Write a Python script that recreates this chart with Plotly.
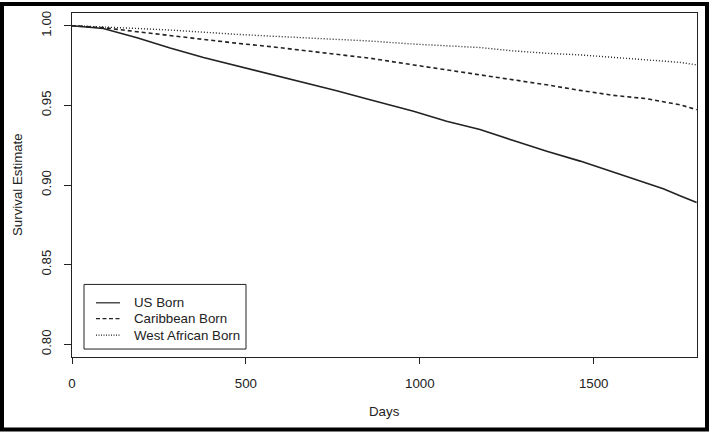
import plotly.graph_objects as go

# ---- data ----
days = [0, 90, 187, 282, 378, 474, 570, 665, 761, 857, 982, 1077, 1173,
        1269, 1365, 1461, 1556, 1652, 1700, 1748, 1796]
us_born = [1.0, 0.9983, 0.9925, 0.9860, 0.9800, 0.9748, 0.9696, 0.9644,
           0.9592, 0.9535, 0.9463, 0.9400, 0.9348, 0.9279, 0.9212, 0.9150,
           0.9083, 0.9014, 0.8977, 0.8932, 0.8890]
caribbean_born = [1.0, 0.9988, 0.99625, 0.99375, 0.99125, 0.9890, 0.9869,
                  0.9844, 0.9823, 0.9796, 0.9754, 0.9723, 0.9692, 0.9665,
                  0.9629, 0.9594, 0.9563, 0.9542, 0.9523, 0.9504, 0.9473]
west_african_born = [1.0, 0.9994, 0.9983, 0.9973, 0.9958, 0.9946, 0.9935,
                     0.9925, 0.9914, 0.9904, 0.9885, 0.9873, 0.9863, 0.9842,
                     0.9827, 0.9817, 0.9800, 0.9785, 0.9777, 0.9770, 0.9754]
series_names = ["US Born", "Caribbean Born", "West African Born"]
x_ticks = [0, 500, 1000, 1500]
y_ticks = [0.80, 0.85, 0.90, 0.95, 1.00]
y_tick_text = ["0.80", "0.85", "0.90", "0.95", "1.00"]

FONT = "Liberation Sans, Arial, Helvetica, sans-serif"
INK = "#222222"

W, H = 709, 432
ML, MR, MT, MB = 72, 12, 11, 75
PW, PH = W - ML - MR, H - MT - MB

def px_x(p):
    return (p - ML) / PW

def px_y(p):
    return (MT + PH - p) / PH

fig = go.Figure()
styles = [
    dict(color=INK, width=1.6, dash="solid"),
    dict(color=INK, width=1.6, dash="4px,3px"),
    dict(color=INK, width=1.4, dash="1px,2px"),
]
for name, ys, st in zip(series_names, [us_born, caribbean_born, west_african_born], styles):
    fig.add_trace(go.Scatter(x=days, y=ys, mode="lines", name=name, line=st,
                             showlegend=False))

# ---- legend drawn as a box with samples (R-style) ----
shapes = [
    dict(type="rect", xref="paper", yref="paper",
         x0=px_x(84), x1=px_x(246), y0=px_y(349), y1=px_y(284),
         line=dict(color=INK, width=1), fillcolor="white", layer="above"),
]
annotations = []
legend_rows = [302.5, 318.5, 335]
legend_dash = ["solid", "4px,2.5px", "1px,1.5px"]
for name, row, dash in zip(series_names, legend_rows, legend_dash):
    shapes.append(dict(type="line", xref="paper", yref="paper",
                       x0=px_x(96), x1=px_x(120), y0=px_y(row), y1=px_y(row),
                       line=dict(color=INK, width=1.2, dash=dash), layer="above"))
    annotations.append(dict(text=name, xref="paper", yref="paper",
                            x=px_x(132), y=px_y(row), xanchor="left",
                            yanchor="middle", showarrow=False,
                            font=dict(family=FONT, size=13.3, color=INK)))

annotations += [
    dict(text="Days", xref="paper", yref="paper", x=0.5, y=px_y(412),
         xanchor="center", yanchor="middle", showarrow=False,
         font=dict(family=FONT, size=13.3, color=INK)),
    dict(text="Survival Estimate", xref="paper", yref="paper",
         x=px_x(17), y=0.5, textangle=-90, xanchor="center",
         yanchor="middle", showarrow=False,
         font=dict(family=FONT, size=13.3, color=INK)),
]
shapes.append(dict(type="rect", xref="paper", yref="paper",
                   x0=px_x(2), x1=px_x(W - 2), y0=px_y(H - 2), y1=px_y(2),
                   line=dict(color="black", width=4),
                   fillcolor="rgba(0,0,0,0)"))

fig.update_layout(
    width=W, height=H,
    margin=dict(l=ML, r=MR, t=MT, b=MB),
    paper_bgcolor="white", plot_bgcolor="white",
    font=dict(family=FONT, size=13, color=INK),
    showlegend=False,
    xaxis=dict(
        range=[0, 1797], tickvals=x_ticks, ticktext=[str(v) for v in x_ticks],
        showgrid=False, zeroline=False, showline=True, linecolor=INK,
        linewidth=1, mirror=True, ticks="outside", ticklen=6, tickcolor=INK,
        tickfont=dict(family=FONT, size=13.3, color=INK),
        ticklabelstandoff=8,
    ),
    yaxis=dict(
        range=[0.792, 1.008], tickvals=y_ticks, ticktext=y_tick_text,
        showgrid=False, zeroline=False, showline=True, linecolor=INK,
        linewidth=1, mirror=True, ticks="outside", ticklen=7, tickcolor=INK,
        tickangle=-90, tickfont=dict(family=FONT, size=13.3, color=INK),
        ticklabelstandoff=8,
    ),
    annotations=annotations,
    shapes=shapes,
)

fig.write_html(
    "out.html",
    config={"displayModeBar": False, "staticPlot": True},
    post_script="document.body.style.margin='0';document.body.style.padding='0';"
                "document.documentElement.style.overflow='hidden';",
)
